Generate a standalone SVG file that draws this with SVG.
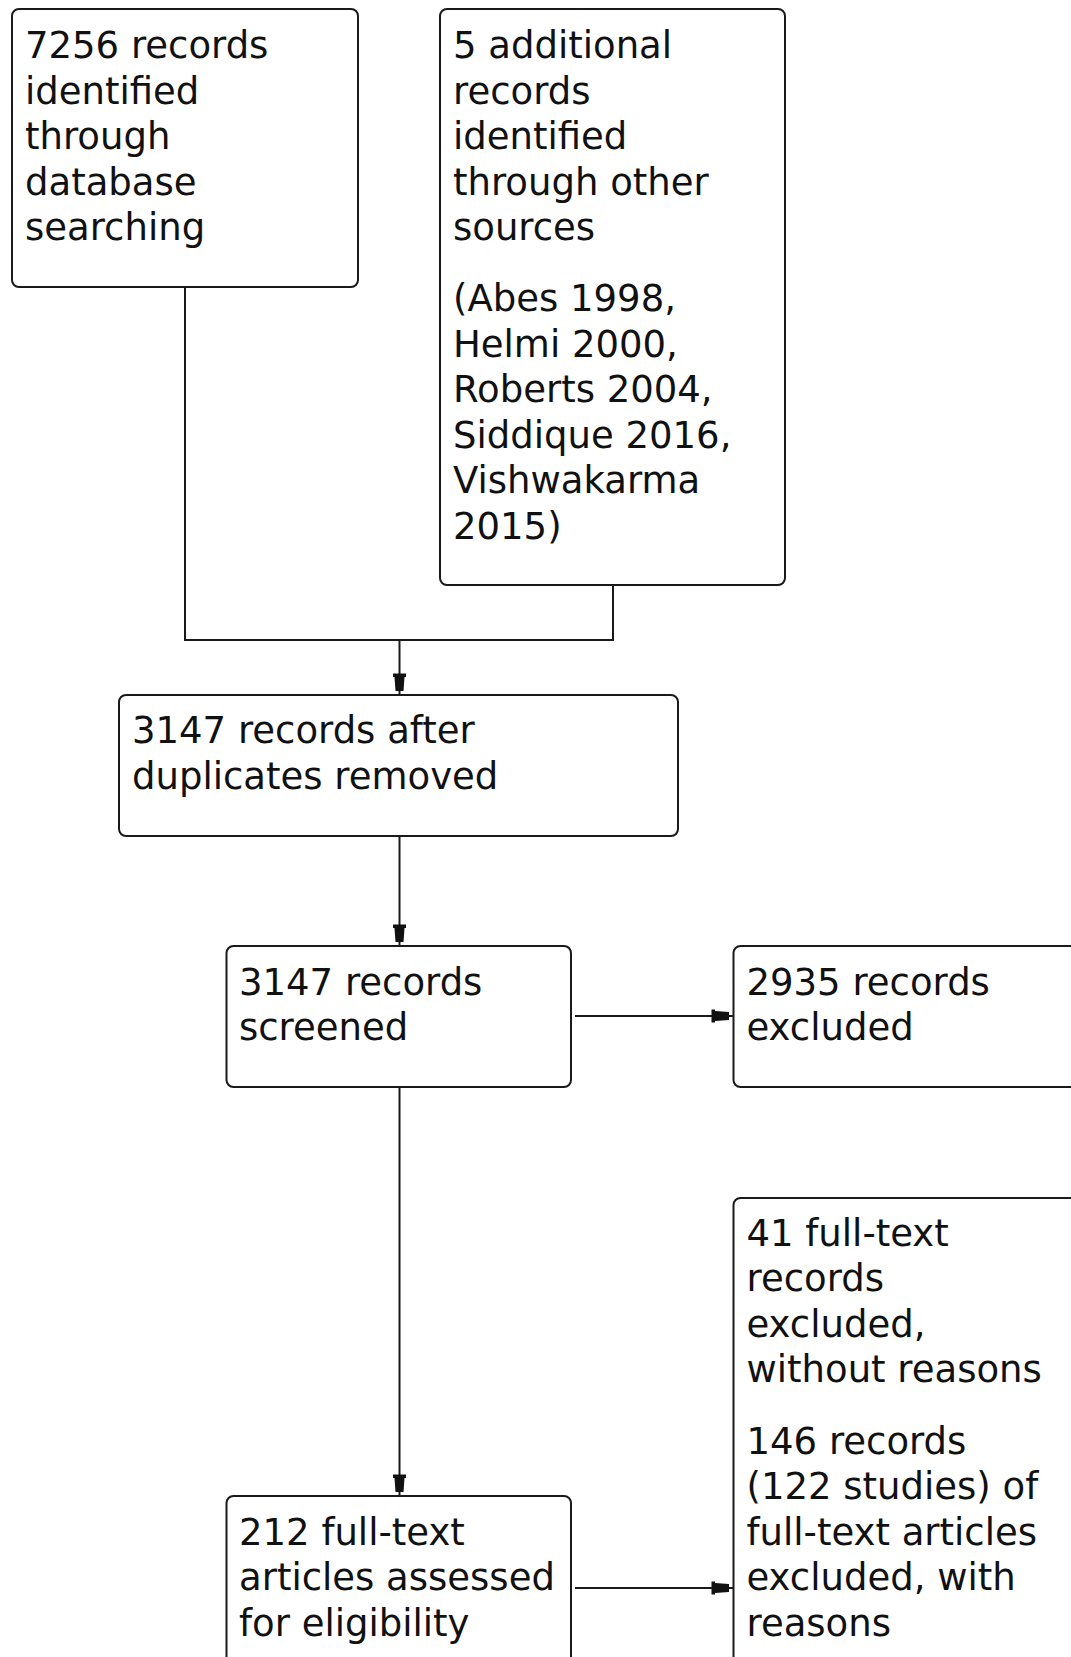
<svg xmlns="http://www.w3.org/2000/svg" width="1071" height="1657" viewBox="0 0 1071 1657">
<style>
.box{fill:#fff;stroke:#1a1a1a;stroke-width:2}
.t{font-family:"DejaVu Sans","Liberation Sans",sans-serif;font-size:37px;fill:#111}
.c{fill:none;stroke:#1a1a1a;stroke-width:2}
</style>
<defs>
<marker id="ah" viewBox="-24 -8 26 16" refX="0" refY="0" markerWidth="26" markerHeight="16" markerUnits="userSpaceOnUse" orient="auto">
<path d="M-21.5,-6.5 L-18,-6.5 L-18,-5 L-4,-4 L-4,4 L-18,5 L-18,6.5 L-21.5,6.5 Z" fill="#111"/>
</marker>
</defs>
<rect width="1071" height="1657" fill="#fff"/>
<g id="connectors">
<path class="c" d="M185,287 V640 H613 V585"/>
<path class="c" d="M399.5,640 V695" marker-end="url(#ah)"/>
<path class="c" d="M399.5,836 V946" marker-end="url(#ah)"/>
<path class="c" d="M575,1016 H733" marker-end="url(#ah)"/>
<path class="c" d="M399.5,1087 V1496" marker-end="url(#ah)"/>
<path class="c" d="M575,1588 H733" marker-end="url(#ah)"/>
</g>
<g id="n1">
<rect class="box" x="12" y="9" width="346" height="278" rx="7"/>
<text class="t"><tspan x="25" y="58">7256 records</tspan><tspan x="25" y="103.5">identified</tspan><tspan x="25" y="149">through</tspan><tspan x="25" y="194.5">database</tspan><tspan x="25" y="240">searching</tspan></text>
</g>
<g id="n2">
<rect class="box" x="440" y="9" width="345" height="576" rx="7"/>
<text class="t"><tspan x="453" y="58">5 additional</tspan><tspan x="453" y="103.5">records</tspan><tspan x="453" y="149">identified</tspan><tspan x="453" y="194.5">through other</tspan><tspan x="453" y="240">sources</tspan></text>
<text class="t"><tspan x="453" y="311">(Abes 1998,</tspan><tspan x="453" y="356.5">Helmi 2000,</tspan><tspan x="453" y="402">Roberts 2004,</tspan><tspan x="453" y="447.5">Siddique 2016,</tspan><tspan x="453" y="493">Vishwakarma</tspan><tspan x="453" y="538.5">2015)</tspan></text>
</g>
<g id="n3">
<rect class="box" x="119" y="695" width="559" height="141" rx="7"/>
<text class="t"><tspan x="132" y="743">3147 records after</tspan><tspan x="132" y="788.5">duplicates removed</tspan></text>
</g>
<g id="n4">
<rect class="box" x="226.5" y="946" width="344.5" height="141" rx="7"/>
<text class="t"><tspan x="239" y="994.5">3147 records</tspan><tspan x="239" y="1039.5">screened</tspan></text>
</g>
<g id="n5">
<rect class="box" x="733.5" y="946" width="360" height="141" rx="7"/>
<text class="t"><tspan x="746.5" y="994.5">2935 records</tspan><tspan x="746.5" y="1039.5">excluded</tspan></text>
</g>
<g id="n6">
<rect class="box" x="226.5" y="1496" width="344.5" height="200" rx="7"/>
<text class="t"><tspan x="239" y="1544.5">212 full-text</tspan><tspan x="239" y="1590">articles assessed</tspan><tspan x="239" y="1635.5">for eligibility</tspan></text>
</g>
<g id="n7">
<rect class="box" x="733.5" y="1198" width="360" height="500" rx="7"/>
<text class="t"><tspan x="746.5" y="1245.5">41 full-text</tspan><tspan x="746.5" y="1291">records</tspan><tspan x="746.5" y="1336.5">excluded,</tspan><tspan x="746.5" y="1382">without reasons</tspan></text>
<text class="t"><tspan x="746.5" y="1453.5">146 records</tspan><tspan x="746.5" y="1499">(122 studies) of</tspan><tspan x="746.5" y="1544.5">full-text articles</tspan><tspan x="746.5" y="1590">excluded, with</tspan><tspan x="746.5" y="1635.5">reasons</tspan></text>
</g>
</svg>
